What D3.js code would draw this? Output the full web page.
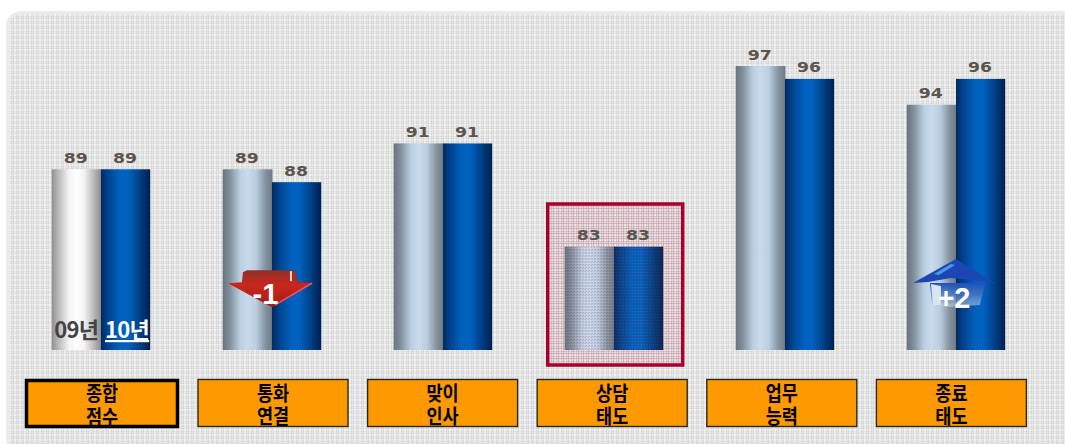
<!DOCTYPE html>
<html><head><meta charset="utf-8">
<script src="https://cdn.jsdelivr.net/npm/d3@7/dist/d3.min.js"></script>
<style>html,body{margin:0;background:#fff;overflow:hidden}svg{display:block}</style>
</head><body><svg id="c" width="1065" height="444"></svg>
<script>
const categories = ["종합|점수","통화|연결","맞이|인사","상담|태도","업무|능력","종료|태도"];
const values09 = [89,89,91,83,97,94];
const values10 = [89,88,91,83,96,96];
const legendLabels = ["09년","10년"];
const changes = [null,-1,null,null,null,2];
const highlighted = 3;
const selected = 0;

const svg = d3.select("#c");
const defs = svg.append("defs");

function grad(id, stops){
  const g = defs.append("linearGradient").attr("id",id).attr("x1",0).attr("x2",1).attr("y1",0).attr("y2",0);
  stops.forEach(s=>g.append("stop").attr("offset",s[0]).attr("stop-color",s[1]));
}
grad("g09",[[0,"#66737f"],[.15,"#83929f"],[.35,"#bccfe2"],[.5,"#c8daec"],[.66,"#bccfe2"],[.86,"#8593a1"],[1,"#6d7a86"]]);
grad("g10",[[0,"#002a5e"],[.15,"#00438e"],[.38,"#0060bc"],[.55,"#0062c0"],[.75,"#00458f"],[1,"#001f4e"]]);
grad("gw",[[0,"#8f8f8f"],[.12,"#b5b5b5"],[.35,"#f4f4f4"],[.5,"#ffffff"],[.65,"#f4f4f4"],[.86,"#b5b5b5"],[1,"#8a8a8a"]]);

const pat = defs.append("pattern").attr("id","dots").attr("width",5).attr("height",5).attr("patternUnits","userSpaceOnUse");
pat.append("rect").attr("width",5).attr("height",5).attr("fill","#e3e3e3");
[[0,"#fafafa"],[1,"#d4d4d4"],[2,"#e6e6e6"],[3,"#d4d4d4"],[4,"#efefef"]].forEach(([p,c])=>{
  pat.append("rect").attr("x",p).attr("width",1).attr("height",5).attr("fill",c).attr("opacity",.75);
  pat.append("rect").attr("y",p).attr("width",5).attr("height",1).attr("fill",c).attr("opacity",.6);
});

const pk = defs.append("pattern").attr("id","pink").attr("width",5).attr("height",5).attr("patternUnits","userSpaceOnUse");
pk.append("rect").attr("width",5).attr("height",5).attr("fill","#e4dfe0");
[[1,"#cfa6b2"],[3,"#c694a3"]].forEach(([p,c])=>{
  pk.append("rect").attr("x",p).attr("width",1).attr("height",5).attr("fill",c).attr("opacity",.55);
  pk.append("rect").attr("y",p).attr("width",5).attr("height",1).attr("fill",c).attr("opacity",.55);
});
pk.append("rect").attr("width",1).attr("height",1).attr("fill","#f8f4f5");

const ov = defs.append("pattern").attr("id","mesh").attr("width",3).attr("height",3).attr("patternUnits","userSpaceOnUse");
ov.append("rect").attr("width",1).attr("height",1).attr("fill","#8a2a50").attr("opacity",.4);
ov.append("rect").attr("x",2).attr("y",1).attr("width",1).attr("height",1).attr("fill","#8a2a50").attr("opacity",.28);
ov.append("rect").attr("x",1).attr("y",2).attr("width",1).attr("height",1).attr("fill","#fff").attr("opacity",.12);

const redG = defs.append("linearGradient").attr("id","red").attr("x1",0).attr("x2",0).attr("y1",0).attr("y2",1);
redG.append("stop").attr("offset",0).attr("stop-color","#8f3028");
redG.append("stop").attr("offset",.4).attr("stop-color","#c8261c");
redG.append("stop").attr("offset",1).attr("stop-color","#a81c18");
const bluG = defs.append("linearGradient").attr("id","blu").attr("x1",0).attr("x2",0).attr("y1",0).attr("y2",1);
bluG.append("stop").attr("offset",0).attr("stop-color","#1f50b8");
bluG.append("stop").attr("offset",.5).attr("stop-color","#4a78c8").attr("stop-opacity",.8);
bluG.append("stop").attr("offset",1).attr("stop-color","#c8d6ec").attr("stop-opacity",.55);

// panel
svg.append("rect").attr("x",7.5).attr("y",12.5).attr("width",1100).attr("height",440).attr("rx",14)
  .attr("fill","url(#dots)").attr("stroke","#ebebeb").attr("stroke-width",3);

// scales
const idx = d3.range(categories.length);
const x0 = d3.scaleBand().domain(idx).range([51.7,1077.7]);
const groupW = 98.5;
const x1 = d3.scaleBand().domain([0,1]).range([0,groupW]);
const y = d3.scaleLinear().domain([75,97]).range([350,66]);
const xBox = d3.scaleBand().domain(idx).range([28.4,28.4+169.6*6]);
const boxW = 150;

// highlight box
const hx = x0(highlighted);
svg.append("rect").attr("x",hx-17).attr("y",204).attr("width",135).attr("height",161)
  .attr("fill","url(#pink)").attr("stroke","#a8002c").attr("stroke-width",3.5);

// bars
idx.forEach(i=>{
  const g = svg.append("g").attr("transform",`translate(${x0(i)},0)`);
  [values09[i],values10[i]].forEach((v,s)=>{
    const fill = s===1?"url(#g10)":(i===selected?"url(#gw)":"url(#g09)");
    g.append("rect").attr("x",x1(s)).attr("y",y(v)).attr("width",x1.bandwidth()+(s===0?0.5:0)).attr("height",y(75)-y(v)).attr("fill",fill);
    if(i===highlighted) g.append("rect").attr("x",x1(s)).attr("y",y(v)).attr("width",x1.bandwidth()).attr("height",y(75)-y(v)).attr("fill","url(#mesh)");
    g.append("text").attr("x",x1(s)+x1.bandwidth()/2-0.5).attr("y",y(v)-6.5)
      .attr("text-anchor","middle").attr("font-family","DejaVu Sans").attr("font-weight","bold")
      .attr("font-size",13.5).attr("fill","#5c554e").attr("textLength",24).attr("lengthAdjust","spacingAndGlyphs").text(v);
  });
});

// legend labels in first group
legendLabels.forEach((t,s)=>{
  svg.append("text").attr("x",x0(0)+x1(s)+x1.bandwidth()/2+(s?1.5:0)).attr("y",338)
    .attr("text-anchor","middle").attr("font-family","'Noto Sans CJK KR'").attr("font-weight","bold")
    .attr("font-size",22).attr("letter-spacing",-0.7).attr("fill",s?"#fff":"#444").attr("text-decoration",s?"underline":"none").text(t);
});

// change markers
idx.forEach(i=>{
  if(changes[i]===null) return;
  const cx = x0(i)+x1(1);
  const g = svg.append("g").attr("transform",`translate(${cx},${y(values10[i])})`);
  if(changes[i]<0){
    g.append("path").attr("d","M-44,101 L-30,100 L-29,90 L-25,88 L23,88 L26,100 L41,101 L0,125 Z").attr("fill","url(#red)");
    g.append("path").attr("d","M3,123 L40,101").attr("stroke","#ee5a64").attr("stroke-width",1.5).attr("fill","none");
    g.append("path").attr("d","M19,89 L19,99").attr("stroke","#f4d8d8").attr("stroke-width",2).attr("fill","none");
    g.append("text").attr("x",-6.5).attr("y",122).attr("text-anchor","middle").attr("font-family","'Liberation Sans'").attr("font-weight","bold").attr("font-size",29).attr("fill","#fff").text(changes[i]);
  } else {
    g.append("path").attr("d","M-26,204 L-24,226 L-6,228 L24,226 L29,204 Z").attr("fill","url(#blu)");
    g.append("path").attr("d","M-43,204 L0,180 L40,205 L27,202 L-5,199 L-28,203 Z").attr("fill","#1c46b4");
    g.append("path").attr("d","M-22,195 L-5,185 L-1,186 L-17,196 Z").attr("fill","#4a9ae8");
    g.append("path").attr("d","M-25,205 L-23,226 L-15,226 L-15,207 Z").attr("fill","#d6e4f4");
    g.append("text").attr("x",-2).attr("y",229).attr("text-anchor","middle").attr("font-family","'Liberation Sans'").attr("font-weight","bold").attr("font-size",29).attr("fill","#fff").text("+"+changes[i]);
  }
});

// category boxes
idx.forEach(i=>{
  const sel = i===selected;
  const g = svg.append("g");
  if(sel){
    g.append("rect").attr("x",26.5).attr("y",380.5).attr("width",151).attr("height",46).attr("fill","#ff9900").attr("stroke","#000").attr("stroke-width",3.5);
  } else {
    g.append("rect").attr("x",xBox(i)).attr("y",379.5).attr("width",boxW).attr("height",47).attr("fill","#ff9900").attr("stroke","#2a2a1c").attr("stroke-width",1.4);
  }
  const c = sel ? 102 : xBox(i)+boxW/2;
  categories[i].split("|").forEach((t,k)=>{
    g.append("text").attr("transform",`translate(${c},${k?(sel?425:424):401}) scale(1,1.15)`).attr("text-anchor","middle")
      .attr("font-family","'Noto Sans CJK KR'").attr("font-weight","bold").attr("font-size",17.5).attr("fill","#000").text(t);
  });
});
</script></body></html>
